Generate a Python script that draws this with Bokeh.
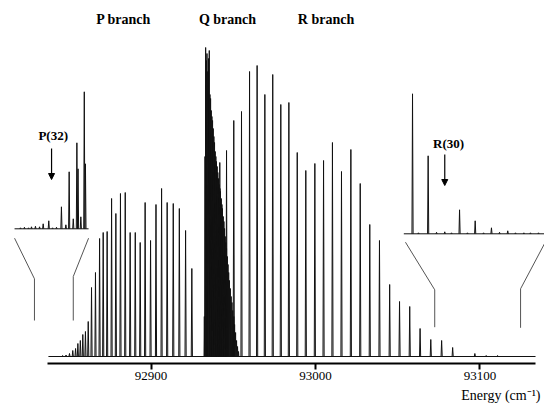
from bokeh.plotting import figure
from bokeh.layouts import column
from bokeh.models import Range1d, FixedTicker, Arrow, NormalHead, Label
from bokeh.core.properties import value
from bokeh.embed import file_html
from bokeh.resources import INLINE

# ---------------- data: line positions (cm^-1) and intensities (arb. units) -------------
p_branch_pos = [92846.2, 92848.3, 92850.4, 92852.4, 92854.1, 92855.5, 92857.0, 92858.5,
                92860.1, 92861.8, 92863.8, 92866.2, 92868.7, 92870.9, 92873.3, 92876.0,
                92878.6, 92881.4, 92884.3, 92887.3, 92890.4, 92893.4, 92896.4, 92899.7,
                92903.0, 92906.4, 92909.8, 92913.5, 92917.2, 92921.0, 92924.8]
p_branch_int = [1, 1.5, 3, 6, 8, 13, 16, 22,
                25, 35, 69, 84, 118, 124, 125, 158,
                143, 163, 164, 124, 124, 114, 154, 116,
                152, 168, 154, 153, 148, 126, 88]

q_branch_pos = [92932.4, 92932.8, 92933.2, 92933.6, 92934.0, 92934.5, 92934.9, 92935.4,
                92935.8, 92936.2, 92936.6, 92937.0, 92937.4, 92937.8, 92938.2, 92938.6,
                92939.0, 92939.4, 92939.8, 92940.2, 92940.6, 92941.0, 92941.4, 92941.9,
                92942.2, 92942.7, 92943.1, 92943.4, 92943.9, 92944.3, 92944.7, 92945.1,
                92945.5, 92945.9, 92946.4, 92946.8, 92947.2, 92947.7, 92948.2, 92948.7,
                92949.2, 92949.7, 92950.3, 92950.8, 92951.4, 92952.0, 92952.6, 92953.2]
q_branch_int = [40, 200, 309, 296, 303, 285, 298, 306,
                262, 258, 246, 240, 236, 228, 220, 214,
                205, 200, 195, 190, 184, 178, 172, 168,
                165, 158, 152, 148, 140, 135, 128, 120,
                114, 108, 100, 92, 84, 76, 68, 60,
                54, 46, 40, 32, 24, 16, 10, 5]

r_branch_pos = [92941.8, 92945.9, 92950.3, 92955.0, 92959.9, 92964.5, 92969.2, 92974.0,
                92978.9, 92983.8, 92988.9, 92994.1, 92999.6, 93004.9, 93010.3, 93015.8,
                93021.5, 93027.2, 93033.0, 93038.9, 93045.1, 93051.1, 93057.3, 93063.6,
                93070.1, 93076.7, 93083.4, 93096.9, 93103.8, 93110.7]
r_branch_int = [194, 206, 236, 245, 285, 291, 262, 282,
                252, 254, 204, 186, 193, 196, 214, 185,
                207, 173, 132, 116, 72, 55, 50, 28,
                17, 16, 9, 3, 1, 1]

# expanded view near P(32)
inset_p_pos = [92820.6, 92823.0, 92825.5, 92827.3, 92829.7, 92832.2, 92834.4, 92837.8,
               92840.1, 92842.5, 92845.5, 92848.2, 92850.2, 92852.7, 92854.9, 92855.6,
               92857.3, 92859.4, 92860.1]
inset_p_int = [1, 1.5, 1, 2, 2.5, 2, 5, 8,
               1, 1.5, 22, 4, 57, 10, 86, 60,
               12, 137, 65]
inset_p_span = (92817.0, 92862.0)

# expanded view near R(30)
inset_r_pos = [93059.0, 93062.6, 93068.5, 93073.6, 93078.6, 93082.7, 93087.6, 93092.4,
               93097.1, 93102.2, 93107.0, 93111.9, 93116.9, 93121.6, 93126.7, 93130.7, 93135.6]
inset_r_int = [140, 1, 78, 1.5, 2, 1, 24, 1,
               13, 1, 6, 1.5, 3, 1, 1, 1, 1]
inset_r_span = (93053.7, 93139.3)

x_ticks = [92900, 93000, 93100]
tick_labels = ["92900", "93000", "93100"]
main_span = (92837.6, 93133.8)
x_title = "Energy (cm⁻¹)"

# ---------------- figure -------------
p = figure(width=544, height=386, output_backend="svg", toolbar_location=None,
           x_range=Range1d(92808.45, 93139.25), y_range=Range1d(-7, 356),
           y_axis_location=None,
           min_border_left=0, min_border_right=0, min_border_top=0, min_border_bottom=23)
p.grid.visible = False
p.outline_line_color = None
p.background_fill_color = "white"
p.border_fill_color = "white"

INK = "#111111"


def peaks(pos, inten, base=0.0, hw=0.35):
    xs, ys = [], []
    for e, h in zip(pos, inten):
        xs.append([e - hw, e, e + hw])
        ys.append([base, base + h, base])
    return xs, ys


# main spectrum
p.line(list(main_span), [0, 0], line_color=INK, line_width=1)
for pos, inten, hw in ((p_branch_pos, p_branch_int, 0.35), (q_branch_pos, q_branch_int, 0.2),
                       (r_branch_pos, r_branch_int, 0.35)):
    xs, ys = peaks(pos, inten, hw=hw)
    p.multi_line(xs, ys, line_color=INK, line_width=1)

# insets
P_BASE = 127.7
R_BASE = 122.7
p.line(list(inset_p_span), [P_BASE, P_BASE], line_color=INK, line_width=1)
xs, ys = peaks(inset_p_pos, inset_p_int, P_BASE)
p.multi_line(xs, ys, line_color=INK, line_width=1)
p.line(list(inset_r_span), [R_BASE, R_BASE], line_color=INK, line_width=1)
xs, ys = peaks(inset_r_pos, inset_r_int, R_BASE)
p.multi_line(xs, ys, line_color=INK, line_width=1)

# connector lines (zoom markers)
GRAY = "#555555"
p.line([92817.0, 92829.1, 92829.1], [118.3, 77.7, 36], line_color=GRAY, line_width=1)
p.line([92862.0, 92852.7, 92852.7], [118.3, 80, 36], line_color=GRAY, line_width=1)
p.line([93054.7, 93072.5, 93072.5], [114.3, 66.7, 29.3], line_color=GRAY, line_width=1)
p.line([93139.3, 93124.7, 93124.7], [113, 67.7, 28.7], line_color=GRAY, line_width=1)

# arrows
p.add_layout(Arrow(end=NormalHead(size=6, fill_color="black", line_color="black"),
                   x_start=92839.5, y_start=208, x_end=92839.5, y_end=177,
                   line_color="black", line_width=1.2))
p.add_layout(Arrow(end=NormalHead(size=6, fill_color="black", line_color="black"),
                   x_start=93078.6, y_start=202, x_end=93078.6, y_end=171,
                   line_color="black", line_width=1.2))

FONT = "Liberation Serif"
for txt, x, y in (("P(32)", 92840.5, 221), ("R(30)", 93080.9, 213)):
    p.add_layout(Label(x=x, y=y, text=txt, text_font=FONT, text_font_size="13px",
                       text_font_style="bold", text_align="center", text_baseline="middle",
                       text_color="black"))
for txt, x in (("P branch", 92883.3), ("Q branch", 92946.5), ("R branch", 93006.4)):
    p.add_layout(Label(x=x, y=337, text=txt, text_font=FONT, text_font_size="14px",
                       text_font_style="bold", text_align="center", text_baseline="middle",
                       text_color="black"))

# axis
ax = p.xaxis[0]
ax.ticker = FixedTicker(ticks=x_ticks)
ax.major_label_overrides = {t: l for t, l in zip(x_ticks, tick_labels)}
ax.bounds = (92837.0, 93133.8)
ax.axis_line_width = 2
ax.axis_line_color = "black"
ax.major_tick_out = 6
ax.major_tick_in = 0
ax.major_tick_line_width = 2
ax.major_tick_line_color = "black"
ax.minor_tick_line_color = None
ax.major_label_text_font = FONT
ax.major_label_text_font_size = "13px"
ax.major_label_text_color = "black"
ax.major_label_standoff = 2

# axis title strip, right-aligned below the tick labels
t = figure(width=544, height=22, output_backend="svg", toolbar_location=None,
           x_range=Range1d(0, 544), y_range=Range1d(0, 22),
           x_axis_location=None, y_axis_location=None,
           min_border_left=0, min_border_right=0, min_border_top=0, min_border_bottom=0)
t.grid.visible = False
t.outline_line_color = None
t.text(x=[540], y=[13], text=[x_title], text_font=value(FONT), text_font_size="14px",
       text_align="right", text_baseline="middle", text_color="black")

open("out.html", "w").write(file_html(column(p, t, spacing=0), INLINE))
